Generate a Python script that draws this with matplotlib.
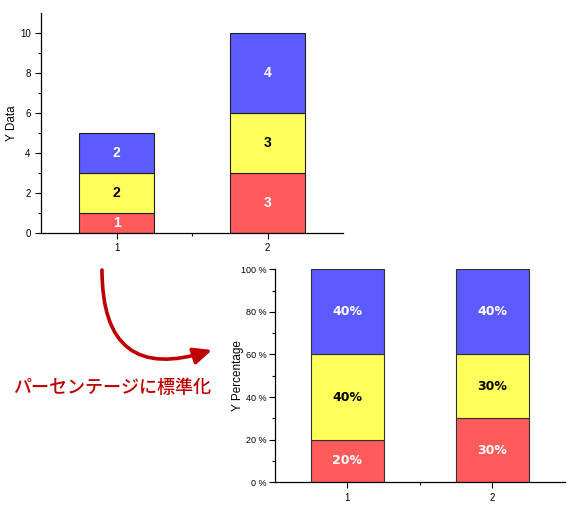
import matplotlib
matplotlib.use("Agg")
import matplotlib.pyplot as plt
from matplotlib.patches import FancyArrowPatch
import numpy as np

categories = [1, 2]
red_vals = [1, 3]
yellow_vals = [2, 3]
blue_vals = [2, 4]
series = [red_vals, yellow_vals, blue_vals]
colors = ["#FF5B5B", "#FFFF5B", "#5B5BFF"]
label_colors = ["white", "black", "white"]
top_yticks = [0, 2, 4, 6, 8, 10]
pct_yticks = [0, 20, 40, 60, 80, 100]
pct_ticklabels = ["0 %", "20 %", "40 %", "60 %", "80 %", "100 %"]
caption = "パーセンテージに標準化"

plt.rcParams['font.family'] = ['Liberation Sans', 'DejaVu Sans']

fig = plt.figure(figsize=(5.8, 5.05), dpi=100)

def style_axes(ax):
    for s in ["top", "right"]:
        ax.spines[s].set_visible(False)
    for s in ["left", "bottom"]:
        ax.spines[s].set_linewidth(0.9)
    ax.tick_params(axis="both", which="major", direction="out", length=4, width=0.8, labelsize=7)
    ax.tick_params(axis="both", which="minor", direction="out", length=2, width=0.8)
    ax.set_xlim(0.5, 2.5)
    ax.set_xticks(categories)
    ax.set_xticks([1.5], minor=True)

# Top chart
ax1 = fig.add_axes([0.0707, 0.5386, 0.5207, 0.4356])
style_axes(ax1)
bottom = np.zeros(len(categories))
for vals, c, lc in zip(series, colors, label_colors):
    ax1.bar(categories, vals, width=0.5, bottom=bottom, color=c, edgecolor="#202020", linewidth=0.8)
    for x, v, b in zip(categories, vals, bottom):
        ax1.text(x, b + v / 2, f"{v}", ha="center", va="center", color=lc,
                 fontsize=10, fontweight="bold")
    bottom += np.array(vals)
ax1.set_ylim(0, 11)
ax1.set_yticks(top_yticks)
ax1.set_yticks([1, 3, 5, 7, 9], minor=True)
ax1.set_ylabel("Y Data", fontsize=8.5, labelpad=1)

# Bottom chart (percentage)
totals = np.sum(np.array(series), axis=0)
ax2 = fig.add_axes([0.4741, 0.045, 0.5, 0.4218])
style_axes(ax2)
ax2.tick_params(axis="y", which="major", labelsize=6.5, pad=2)
bottom = np.zeros(len(categories))
for vals, c, lc in zip(series, colors, label_colors):
    pct = np.array(vals) / totals * 100
    ax2.bar(categories, pct, width=0.5, bottom=bottom, color=c, edgecolor="#303030", linewidth=0.8)
    for x, p, b in zip(categories, pct, bottom):
        ax2.text(x, b + p / 2, f"{p:.0f}%", ha="center", va="center", color=lc,
                 fontsize=9, fontweight="bold", family=["DejaVu Sans"])
    bottom += pct
ax2.set_ylim(0, 100)
ax2.set_yticks(pct_yticks)
ax2.set_yticklabels(pct_ticklabels)
ax2.set_yticks([10, 30, 50, 70, 90], minor=True)
ax2.set_ylabel("Y Percentage", fontsize=8.5, labelpad=-2)

# Curved arrow
W, H = 580, 505
start = (102 / W, 1 - 270 / H)
end = (212 / W, 1 - 350 / H)
arrow = FancyArrowPatch(start, end, transform=fig.transFigure,
                        connectionstyle="arc3,rad=0.6875",
                        arrowstyle="-|>,head_length=0.55,head_width=0.25",
                        mutation_scale=20, color="#C00000", linewidth=2.6,
                        shrinkA=0, shrinkB=0)
fig.patches.append(arrow)

fig.text(112 / W, 1 - 388 / H, caption, ha="center", va="center", color="#C00000",
         fontsize=13, fontweight="medium", family=["Noto Sans CJK JP", "DejaVu Sans"])

fig.savefig("out.png", dpi=100)
